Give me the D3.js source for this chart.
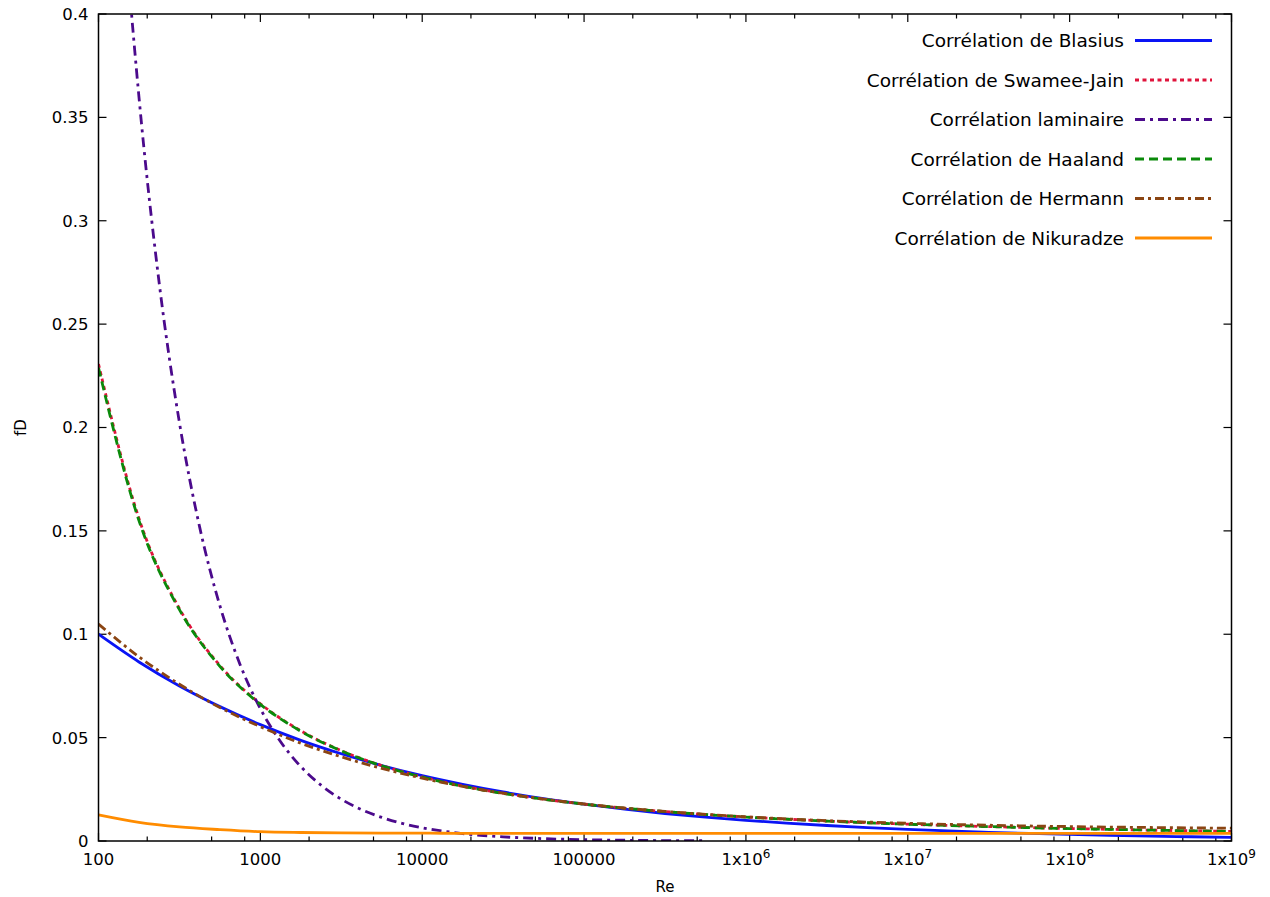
<!DOCTYPE html>
<html>
<head>
<meta charset="utf-8">
<script src="https://cdn.jsdelivr.net/npm/d3@7"></script>
<style>
  body { margin: 0; background: #fff; }
  text { font-family: "DejaVu Sans", sans-serif; fill: #000; }
</style>
</head>
<body>
<div id="chart"></div>
<script>
// Reynolds numbers sampled every quarter decade
const reynolds = [100, 177.8, 316.2, 562.3, 1000, 1778, 3162, 5623, 1e4, 1.778e4, 3.162e4, 5.623e4,
  1e5, 1.778e5, 3.162e5, 5.623e5, 1e6, 1.778e6, 3.162e6, 5.623e6, 1e7, 1.778e7, 3.162e7, 5.623e7,
  1e8, 1.778e8, 3.162e8, 5.623e8, 1e9]

const blasius = [0.1000, 0.0866, 0.0750, 0.0650, 0.0563, 0.0487, 0.0422, 0.0365, 0.0316, 0.0274, 0.0237, 0.0205,
  0.0178, 0.0154, 0.0133, 0.01155, 0.0100, 0.00866, 0.00750, 0.00650, 0.00563, 0.00487, 0.00422, 0.00365,
  0.00316, 0.00274, 0.00237, 0.00205, 0.00178]

const swameeJain = [0.2307, 0.1560, 0.1124, 0.0849, 0.0664, 0.0533, 0.0437, 0.0365, 0.0310, 0.0266, 0.0231, 0.0202,
  0.01786, 0.01589, 0.01423, 0.01282, 0.01161, 0.01056, 0.00965, 0.00885, 0.00814, 0.00752, 0.00697, 0.00647,
  0.00603, 0.00563, 0.00526, 0.00494, 0.00464]

const haaland = [0.2289, 0.1550, 0.1119, 0.0845, 0.0661, 0.0531, 0.0436, 0.0364, 0.0309, 0.0265, 0.0230, 0.0202,
  0.01782, 0.01586, 0.01421, 0.01280, 0.01159, 0.01054, 0.00963, 0.00883, 0.00813, 0.00751, 0.00696, 0.00646,
  0.00602, 0.00562, 0.00526, 0.00493, 0.00463]

const hermann = [0.1049, 0.0891, 0.0758, 0.0646, 0.0553, 0.0473, 0.0407, 0.0351, 0.0304, 0.0264, 0.0231, 0.0203,
  0.0179, 0.0159, 0.0143, 0.0129, 0.0117, 0.0107, 0.00984, 0.00914, 0.00855, 0.00805, 0.00763, 0.00727,
  0.00698, 0.00673, 0.00652, 0.00634, 0.00619]

const nikuradze = [0.0126, 0.0090, 0.0068, 0.0055, 0.0045, 0.0041, 0.0039, 0.0038, 0.0038, 0.0037, 0.0037, 0.0037,
  0.0037, 0.0037, 0.0037, 0.0037, 0.0037, 0.0037, 0.0037, 0.0037, 0.0037, 0.0037, 0.0037, 0.0037,
  0.0037, 0.0037, 0.0037, 0.0037, 0.0037]

// laminar curve is steep, sampled every eighth of a decade at first
const reLaminar = [100, 133.4, 177.8, 237.1, 316.2, 421.7, 562.3, 749.9, 1000, 1334, 1778, 2371, 3162, 4217, 5623, 7499,
  1e4, 1.778e4, 3.162e4, 5.623e4, 1e5, 1.778e5, 3.162e5, 5.623e5]
const laminar = [0.64, 0.4799, 0.3599, 0.2699, 0.2024, 0.1518, 0.1138, 0.0853, 0.064, 0.0480, 0.0360, 0.0270, 0.0202, 0.0152, 0.0114, 0.00853,
  0.0064, 0.0036, 0.00202, 0.00114, 0.00064, 0.00036, 0.00020, 0.00011]

const xMajorTicks = [100, 1000, 1e4, 1e5, 1e6, 1e7, 1e8, 1e9]
const xTickLabels = ['100', '1000', '10000', '100000', '1x10^6', '1x10^7', '1x10^8', '1x10^9']
const yTicks = [0, 0.05, 0.1, 0.15, 0.2, 0.25, 0.3, 0.35, 0.4]
const yTickLabels = ['0', '0.05', '0.1', '0.15', '0.2', '0.25', '0.3', '0.35', '0.4']

const series = [
  { name: 'Corrélation de Blasius', re: reynolds, f: blasius, color: '#0a14f5', dash: null },
  { name: 'Corrélation de Swamee-Jain', re: reynolds, f: swameeJain, color: '#e0143c', dash: '4,3.5' },
  { name: 'Corrélation laminaire', re: reLaminar, f: laminar, color: '#4b0a8c', dash: '10,5,3,5' },
  { name: 'Corrélation de Haaland', re: reynolds, f: haaland, color: '#0a8a0a', dash: '9,5' },
  { name: 'Corrélation de Hermann', re: reynolds, f: hermann, color: '#8b4513', dash: '9,4,3,4' },
  { name: 'Corrélation de Nikuradze', re: reynolds, f: nikuradze, color: '#ff8c00', dash: null }
]

const width = 1270
const height = 897
const margin = { left: 98.5, right: 38.5, top: 14, bottom: 56 }

const svg = d3.select('#chart').append('svg')
  .attr('width', width)
  .attr('height', height)

const xScale = d3.scaleLog().domain([100, 1e9]).range([margin.left, width - margin.right])
const yScale = d3.scaleLinear().domain([0, 0.4]).range([height - margin.bottom, margin.top])

svg.append('clipPath').attr('id', 'plot-clip')
  .append('rect')
  .attr('x', margin.left)
  .attr('y', margin.top)
  .attr('width', width - margin.left - margin.right)
  .attr('height', height - margin.top - margin.bottom)

// minor ticks at 2, 5 and 8 within each decade
const xMinorTicks = []
xMajorTicks.slice(0, -1).forEach(t => {
  [2, 5, 8].forEach(m => xMinorTicks.push(t * m))
})

const x0 = margin.left
const x1 = width - margin.right
const y0 = height - margin.bottom
const y1 = margin.top

const gAxes = svg.append('g').attr('stroke', '#000').attr('stroke-width', 1.2)

xMajorTicks.forEach(t => {
  const x = xScale(t)
  gAxes.append('line').attr('x1', x).attr('x2', x).attr('y1', y0).attr('y2', y0 - 8)
  gAxes.append('line').attr('x1', x).attr('x2', x).attr('y1', y1).attr('y2', y1 + 8)
})
xMinorTicks.forEach(t => {
  const x = xScale(t)
  gAxes.append('line').attr('x1', x).attr('x2', x).attr('y1', y0).attr('y2', y0 - 4.5)
  gAxes.append('line').attr('x1', x).attr('x2', x).attr('y1', y1).attr('y2', y1 + 4.5)
})
yTicks.forEach(t => {
  const y = yScale(t)
  gAxes.append('line').attr('x1', x0).attr('x2', x0 + 8).attr('y1', y).attr('y2', y)
  gAxes.append('line').attr('x1', x1).attr('x2', x1 - 8).attr('y1', y).attr('y2', y)
})

// x tick labels, with superscripts for powers of ten
xMajorTicks.forEach((t, i) => {
  const parts = xTickLabels[i].split('^')
  const txt = svg.append('text')
    .attr('x', xScale(t))
    .attr('y', y0 + 24)
    .attr('text-anchor', 'middle')
    .style('font-size', '16.5px')
  txt.append('tspan').text(parts[0])
  if (parts[1]) {
    txt.append('tspan').attr('dy', -7).style('font-size', '12px').text(parts[1])
  }
})

yTicks.forEach((t, i) => {
  svg.append('text')
    .attr('x', x0 - 10)
    .attr('y', yScale(t))
    .attr('dy', '0.36em')
    .attr('text-anchor', 'end')
    .style('font-size', '16.5px')
    .text(yTickLabels[i])
})

svg.append('text')
  .attr('x', (x0 + x1) / 2)
  .attr('y', 892)
  .attr('text-anchor', 'middle')
  .style('font-size', '15px')
  .text('Re')

svg.append('text')
  .attr('transform', `translate(26 ${(y0 + y1) / 2}) rotate(-90)`)
  .attr('text-anchor', 'middle')
  .style('font-size', '15px')
  .text('fD')

const line = d3.line()
  .curve(d3.curveMonotoneX)
  .x(d => xScale(d[0]))
  .y(d => yScale(d[1]))

const gLines = svg.append('g').attr('clip-path', 'url(#plot-clip)')

series.forEach(s => {
  gLines.append('path')
    .attr('d', line(s.re.map((r, i) => [r, s.f[i]])))
    .attr('fill', 'none')
    .attr('stroke', s.color)
    .attr('stroke-width', 2.8)
    .attr('stroke-dasharray', s.dash)
})

// border on top of the curves
svg.append('rect')
  .attr('x', x0).attr('y', y1)
  .attr('width', x1 - x0).attr('height', y0 - y1)
  .attr('fill', 'none')
  .attr('stroke', '#000')
  .attr('stroke-width', 1.5)

// legend
const legend = svg.append('g')
series.forEach((s, i) => {
  const y = 40.5 + i * 39.5
  legend.append('text')
    .attr('x', 1124)
    .attr('y', y)
    .attr('dy', '0.36em')
    .attr('text-anchor', 'end')
    .style('font-size', '18.5px')
    .text(s.name)
  legend.append('line')
    .attr('x1', 1135).attr('x2', 1212)
    .attr('y1', y).attr('y2', y)
    .attr('stroke', s.color)
    .attr('stroke-width', 2.8)
    .attr('stroke-dasharray', s.dash)
})
</script>
</body>
</html>
